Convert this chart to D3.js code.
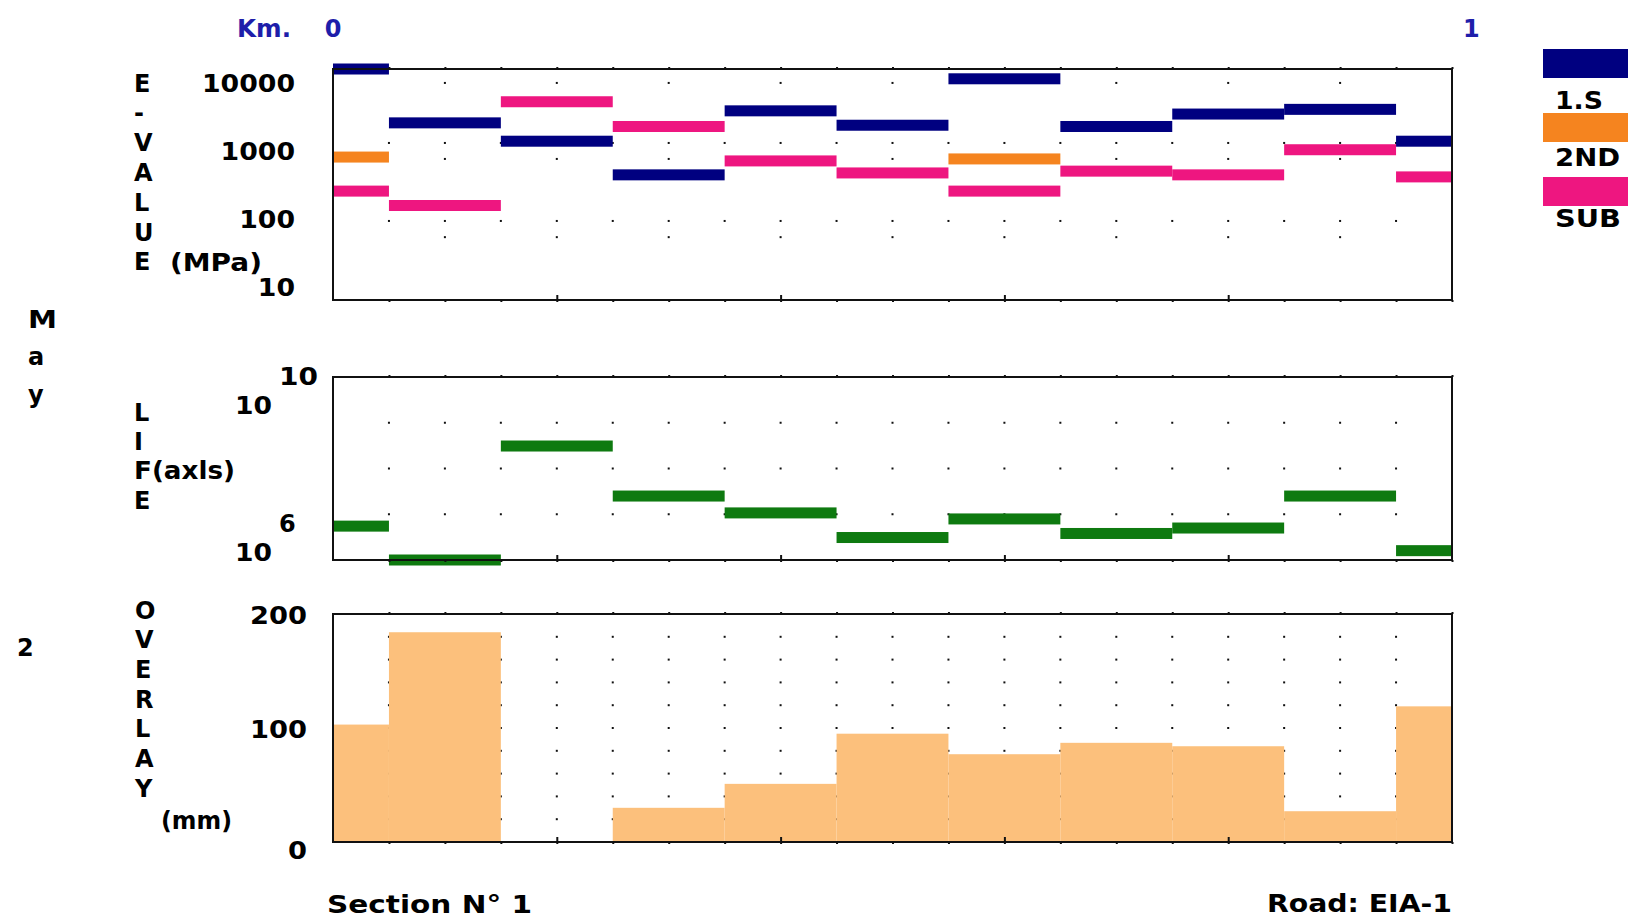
<!DOCTYPE html>
<html><head><meta charset="utf-8">
<script src="https://cdn.jsdelivr.net/npm/d3@7"></script>
<style>
body{margin:0;background:#fff}
svg{display:block;background:#fff}
text{font-family:"DejaVu Sans",sans-serif;font-weight:bold;font-size:24px;fill:#000}
</style>
</head><body>
<svg id="c" width="1633" height="922"></svg>
<script>
// ---------- data ----------
const kmBreaks = [0, 0.05, 0.15, 0.25, 0.35, 0.45, 0.55, 0.65, 0.75, 0.85, 0.95, 1.0];
const seriesNames = ["1.S", "2ND", "SUB"];
const seriesColors = ["#000080", "#f5841f", "#ee1680"];
const modulusFirst  = [16000, 2600, 1400, 450, 3900, 2400, 11500, 2300, 3500, 4100, 1400];
const modulusSecond = [820, null, null, null, null, null, 770, null, null, null, null];
const modulusSub    = [260, 160, 5300, 2300, 720, 480, 260, 510, 450, 1050, 420];
const lifeAxles = [5.5e6, 1e6, 3.1e8, 2.5e7, 1.07e7, 3.1e6, 7.9e6, 3.8e6, 5.0e6, 2.5e7, 1.6e6];
const overlayMm = [103, 184, 0, 30, 51, 95, 77, 87, 84, 27, 119];

const eTicks = [10000, 1000, 100, 10];
const eTickLabels = ["10000", "1000", "100", "10"];
const eGridRows = [10000, 1320, 770, 95, 55];
const eGridEvenOnly = [true, false, true, false, true];
const lifeGridRows = [1e7, 1e8, 1e9];
const overlayTicks = [200, 100, 0];
const overlayTickLabels = ["200", "100", "0"];
const overlayGridRows = [20, 40, 60, 80, 100, 120, 140, 160, 180];
const kmStep = 0.05;
const majorKm = [0.2, 0.4, 0.6, 0.8];

// ---------- setup ----------
const svg = d3.select("#c");
const x = d3.scaleLinear().domain([0, 1]).range([333, 1452]);
const yE = d3.scaleLog().domain([6.6, 16000]).range([300, 69]);
const yL = d3.scaleLog().domain([1e6, 1e10]).range([560, 377]);
const yO = d3.scaleLinear().domain([0, 200]).range([842, 614]);
const gridKm = d3.range(1, 21).map(i => +(i * kmStep).toFixed(2));
const segs = d3.range(kmBreaks.length - 1).map(i => ({ a: kmBreaks[i], b: kmBreaks[i + 1], i }));

function label(str, px, py, o = {}) {
  const t = svg.append("text").attr("x", px).attr("y", py).attr("dy", "0.36em").text(str);
  if (o.anchor) t.attr("text-anchor", o.anchor);
  if (o.fill) t.style("fill", o.fill);
  if (o.size) t.style("font-size", o.size + "px");
  if (o.w) t.attr("textLength", o.w).attr("lengthAdjust", "spacingAndGlyphs");
  return t;
}

function dots(g, rows, yScale, evenOnlyFlags) {
  rows.forEach((r, ri) => {
    const cols = gridKm.filter((k, ci) => !(evenOnlyFlags && evenOnlyFlags[ri]) || (ci % 2 === 1));
    g.selectAll(null).data(cols).enter().append("rect")
      .attr("x", d => x(d) - 1).attr("y", yScale(r) - 1)
      .attr("width", 2).attr("height", 2).attr("fill", "#111");
  });
}

function frame(yScale) {
  const [b, t] = yScale.range();
  const g = svg.append("g");
  g.append("g").attr("transform", `translate(0,${t})`)
    .call(d3.axisTop(x).tickValues(gridKm).tickSize(2).tickFormat(""))
    .call(s => s.select(".domain").remove())
    .selectAll("line").attr("stroke", "#111").attr("stroke-width", 2);
  g.append("g").attr("transform", `translate(0,${b})`)
    .call(d3.axisBottom(x).tickValues(gridKm).tickSize(2).tickFormat(""))
    .call(s => s.select(".domain").remove())
    .selectAll("line").attr("stroke", "#111").attr("stroke-width", 2);
  g.append("g").attr("transform", `translate(0,${b})`)
    .call(d3.axisBottom(x).tickValues(majorKm).tickSize(-5).tickFormat(""))
    .call(s => s.select(".domain").remove())
    .selectAll("line").attr("stroke", "#111").attr("stroke-width", 2);
  g.append("rect").attr("x", x(0)).attr("y", t)
    .attr("width", x(1) - x(0)).attr("height", b - t)
    .attr("fill", "none").attr("stroke", "#111").attr("stroke-width", 2);
}

// ---------- panel 1 : E-VALUE ----------
const p1 = svg.append("g");
dots(p1, eGridRows, yE, eGridEvenOnly);
[modulusFirst, modulusSecond, modulusSub].forEach((vals, si) => {
  p1.selectAll(null).data(segs.filter(s => vals[s.i] != null)).enter().append("rect")
    .attr("x", s => x(s.a)).attr("width", s => x(s.b) - x(s.a))
    .attr("y", s => yE(vals[s.i]) - 5.5).attr("height", 11)
    .attr("fill", seriesColors[si]);
});
frame(yE);

// ---------- panel 2 : LIFE ----------
const p2 = svg.append("g");
dots(p2, lifeGridRows, yL, null);
p2.selectAll(null).data(segs).enter().append("rect")
  .attr("x", s => x(s.a)).attr("width", s => x(s.b) - x(s.a))
  .attr("y", s => yL(lifeAxles[s.i]) - 5.5).attr("height", 11)
  .attr("fill", "#0e7a10");
frame(yL);

// ---------- panel 3 : OVERLAY ----------
const p3 = svg.append("g");
dots(p3, overlayGridRows, yO, null);
p3.selectAll(null).data(segs.filter(s => overlayMm[s.i] > 0)).enter().append("rect")
  .attr("x", s => x(s.a)).attr("width", s => x(s.b) - x(s.a))
  .attr("y", s => yO(overlayMm[s.i])).attr("height", s => yO(0) - yO(overlayMm[s.i]))
  .attr("fill", "#fcc07c");
frame(yO);

// ---------- texts ----------
const blue = "#1e1eaa";
label("Km.", 237, 28, { fill: blue, w: 54 });
label("0", x(0), 28, { fill: blue, anchor: "middle" });
label("1", 1463, 28, { fill: blue });

["E", "-", "V", "A", "L", "U", "E"].forEach((c, i) => label(c, 134, 83 + i * 29.8));
label("(MPa)", 170, 262, { w: 92 });
eTicks.forEach((v, i) => {
  const w = eTickLabels[i].length * 18.6;
  label(eTickLabels[i], 295 - w, yE(v), { w });
});

["M", "a", "y"].forEach((c, i) => label(c, 28, 319 + i * 37.5, c === "M" ? { w: 29 } : {}));

["L", "I", "F(axls)", "E"].forEach((c, i) => label(c, 134, 412 + i * 29.4, c.length > 1 ? { w: 101 } : {}));
label("10", 235, yL(1e10) + 28, { w: 37 });
label("10", 279, yL(1e10) - 1, { w: 39 });
label("10", 235, yL(1e6) - 8, { w: 37 });
label("6", 279, yL(1e6) - 37);

label("2", 17, 647);
["O", "V", "E", "R", "L", "A", "Y"].forEach((c, i) => label(c, 135, 610 + i * 29.7));
label("(mm)", 161, 820, { w: 71 });
overlayTicks.forEach((v, i) => {
  const w = overlayTickLabels[i].length * 19;
  label(overlayTickLabels[i], 307 - w, yO(v) + (v === 0 ? 8 : 1), { w });
});

label("Section N° 1", 327, 904, { w: 205 });
label("Road: EIA-1", 1267, 903, { w: 185 });

// ---------- legend ----------
const legY = [49, 113, 177];
const legTextY = [100, 157, 218];
const legW = [48, 65, 66];
seriesNames.forEach((n, i) => {
  svg.append("rect").attr("x", 1543).attr("y", legY[i]).attr("width", 85).attr("height", 29)
    .attr("fill", seriesColors[i]);
  label(n, 1555, legTextY[i], { w: legW[i] });
});
</script>
</body></html>
